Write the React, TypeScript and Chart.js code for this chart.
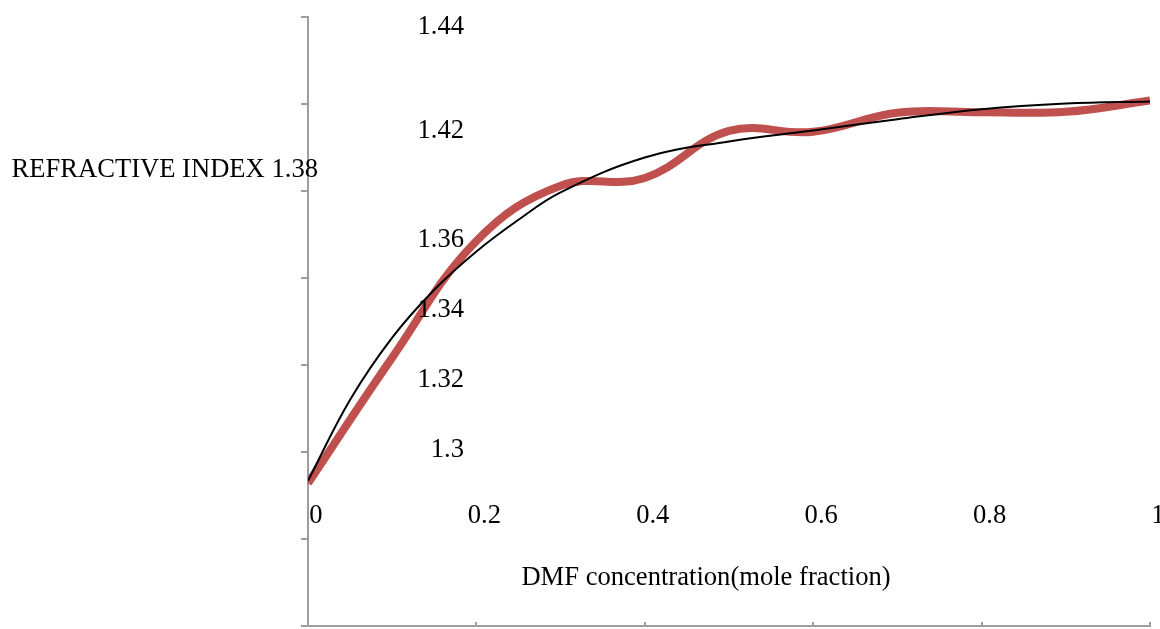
import { useEffect, useRef } from "react";
import { Chart, registerables } from "chart.js";

Chart.register(...registerables);

// Measured refractive index of DMF–water mixtures
const molFraction = [0, 0.1, 0.2, 0.3, 0.4, 0.5, 0.6, 0.7, 0.8, 0.9, 1];
const refractiveIndex = [
  1.3328, 1.3617, 1.3885, 1.4012, 1.403, 1.4138, 1.4136, 1.418, 1.4181, 1.4182, 1.4208,
];

// Fitted trend curve
const trendFraction = [0, 0.05, 0.1, 0.15, 0.2, 0.25, 0.3, 0.4, 0.5, 0.6, 0.7, 0.8, 0.9, 1];
const trendIndex = [
  1.3334, 1.352, 1.3663, 1.3773, 1.3861, 1.3934, 1.3997, 1.4077, 1.4114, 1.4139, 1.4165,
  1.4188, 1.4201, 1.4206,
];

const yTickLabels = ["1.44", "1.42", "1.38", "1.36", "1.34", "1.32", "1.3"];
const xTickValues = [0, 0.2, 0.4, 0.6, 0.8, 1];
const xTickLabels = ["0", "0.2", "0.4", "0.6", "0.8", "1"];
const yAxisTitle = "REFRACTIVE INDEX";
const xAxisTitle = "DMF concentration(mole fraction)";

const AXIS_GRAY = "#9d9d9d";
const FONT = '26.6px "Liberation Serif", "Times New Roman", serif';

// Free-floating text labels placed around the plot frame
const labelsPlugin = {
  id: "floatingLabels",
  afterDraw(chart: Chart) {
    const ctx = chart.ctx;
    const xScale = chart.scales.x;
    ctx.save();
    ctx.font = FONT;
    ctx.fillStyle = "#000";
    ctx.textBaseline = "alphabetic";

    // value labels stacked to the right of the vertical axis
    const yLabelSpots: [number, number][] = [
      [464, 34],
      [464, 138],
      [318, 177],
      [464, 247],
      [464, 317],
      [464, 387],
      [464, 457],
    ];
    ctx.textAlign = "right";
    yTickLabels.forEach((t, i) => {
      const [x, y] = yLabelSpots[i];
      const text = i === 2 ? `${yAxisTitle} ${t}` : t;
      ctx.fillText(text, x, y);
    });

    // category labels above the horizontal axis
    ctx.textAlign = "center";
    xTickValues.forEach((v, i) => {
      const px = xScale.getPixelForValue(v) + 8;
      ctx.fillText(xTickLabels[i], px, 523);
    });

    ctx.fillText(xAxisTitle, 706, 585);
    ctx.restore();
  },
};

export default function App() {
  const canvasRef = useRef<HTMLCanvasElement | null>(null);

  useEffect(() => {
    const canvas = canvasRef.current;
    if (!canvas) return;
    const chart = new Chart(canvas, {
      type: "line",
      data: {
        datasets: [
          {
            label: "Trend",
            data: trendFraction.map((x, i) => ({ x, y: trendIndex[i] })),
            borderColor: "#000000",
            borderWidth: 2,
            pointRadius: 0,
            tension: 0.4,
            fill: false,
          },
          {
            label: "Refractive index",
            data: molFraction.map((x, i) => ({ x, y: refractiveIndex[i] })),
            borderColor: "#c0504d",
            borderWidth: 8,
            pointRadius: 0,
            tension: 0.4,
            fill: false,
          },
        ],
      },
      options: {
        animation: false,
        responsive: false,
        devicePixelRatio: 1,
        layout: { padding: { left: 308, top: 17, right: 10, bottom: 3 } },
        plugins: { legend: { display: false }, tooltip: { enabled: false } },
        scales: {
          x: {
            type: "linear",
            min: 0,
            max: 1,
            ticks: { display: false, stepSize: 0.2 },
            grid: {
              drawOnChartArea: false,
              drawTicks: true,
              tickLength: -4,
              color: AXIS_GRAY,
              lineWidth: 2,
            },
            border: { display: true, color: AXIS_GRAY, width: 2 },
            afterFit: (scale: any) => {
              scale.height = 0;
            },
          },
          y: {
            type: "linear",
            min: 1.3,
            max: 1.44,
            ticks: { display: false, stepSize: 0.02 },
            grid: {
              drawOnChartArea: false,
              drawTicks: true,
              tickLength: 7,
              color: AXIS_GRAY,
              lineWidth: 2,
            },
            border: { display: true, color: AXIS_GRAY, width: 2 },
            afterFit: (scale: any) => {
              scale.width = 0;
            },
          },
        },
      },
      plugins: [labelsPlugin],
    });
    return () => chart.destroy();
  }, []);

  return (
    <div
      style={{
        position: "fixed",
        left: 0,
        top: 0,
        width: 1160,
        height: 629,
        background: "#fff",
      }}
    >
      <canvas ref={canvasRef} width={1160} height={629} style={{ display: "block" }} />
    </div>
  );
}
